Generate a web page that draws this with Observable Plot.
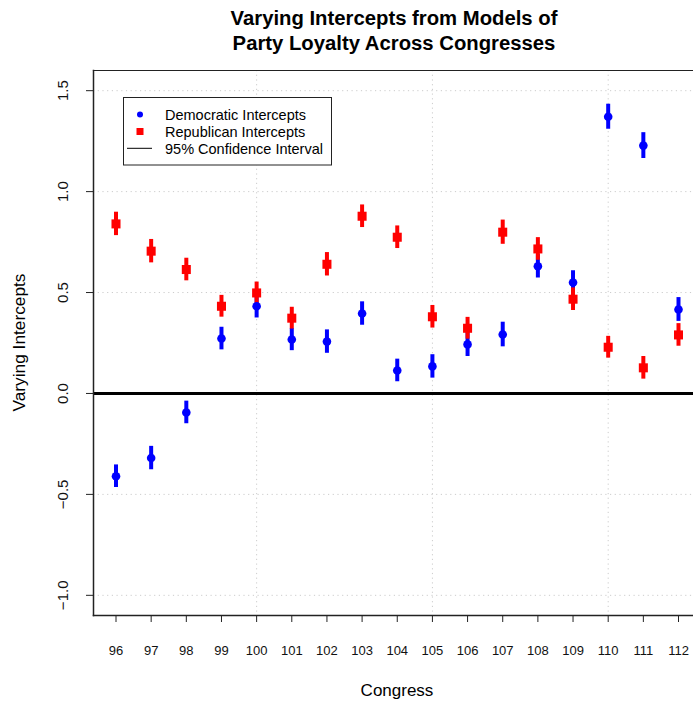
<!DOCTYPE html>
<html>
<head>
<meta charset="utf-8">
<script src="https://cdn.jsdelivr.net/npm/d3@7"></script>
<script src="https://cdn.jsdelivr.net/npm/@observablehq/plot@0.6"></script>
<style>
  html, body { margin: 0; padding: 0; background: #fff; }
  svg { display: block; }
</style>
</head>
<body>
<div id="chart"></div>
<script>
const congresses = [96, 97, 98, 99, 100, 101, 102, 103, 104, 105, 106, 107, 108, 109, 110, 111, 112];

const demEst = [-0.41, -0.32, -0.094, 0.272, 0.432, 0.267, 0.257, 0.396, 0.114, 0.134, 0.243, 0.292, 0.63, 0.55, 1.371, 1.228, 0.416];
const demLo  = [-0.466, -0.378, -0.150, 0.216, 0.374, 0.212, 0.199, 0.338, 0.058, 0.076, 0.183, 0.231, 0.572, 0.492, 1.309, 1.164, 0.357];
const demHi  = [-0.354, -0.262, -0.038, 0.328, 0.490, 0.322, 0.315, 0.454, 0.170, 0.192, 0.303, 0.353, 0.688, 0.608, 1.433, 1.292, 0.475];

const repEst = [0.84, 0.705, 0.614, 0.432, 0.498, 0.373, 0.64, 0.878, 0.774, 0.38, 0.323, 0.799, 0.716, 0.467, 0.229, 0.127, 0.29];
const repLo  = [0.782, 0.647, 0.558, 0.378, 0.444, 0.319, 0.582, 0.822, 0.718, 0.324, 0.269, 0.739, 0.660, 0.411, 0.175, 0.071, 0.234];
const repHi  = [0.898, 0.763, 0.670, 0.486, 0.552, 0.427, 0.698, 0.934, 0.830, 0.436, 0.377, 0.859, 0.772, 0.523, 0.283, 0.183, 0.346];

const yTicks = [-1.0, -0.5, 0.0, 0.5, 1.0, 1.5];
const yTickLabels = ["\u22121.0", "\u22120.5", "0.0", "0.5", "1.0", "1.5"];
const xGrid = [100, 105, 110];

const titleLines = ["Varying Intercepts from Models of", "Party Loyalty Across Congresses"];
const xLabel = "Congress";
const yLabel = "Varying Intercepts";
const legendItems = ["Democratic Intercepts", "Republican Intercepts", "95% Confidence Interval"];

const BLUE = "#0000ff", RED = "#ff0000";

const dem = congresses.map((c, i) => ({c, est: demEst[i], lo: demLo[i], hi: demHi[i]}));
const rep = congresses.map((c, i) => ({c, est: repEst[i], lo: repLo[i], hi: repHi[i]}));
const yLab = yTicks.map((v, i) => ({v, label: yTickLabels[i]}));

const FONT = "'Liberation Sans', Arial, Helvetica, sans-serif";

const chart = Plot.plot({
  width: 693,
  height: 703,
  marginLeft: 93,
  marginRight: 0,
  marginTop: 70,
  marginBottom: 88,
  style: {fontFamily: FONT, background: "#fff", overflow: "visible"},
  x: {domain: [95.36, 112.64], range: [93, 700.5], axis: null},
  y: {domain: [-1.1, 1.6], axis: null},
  marks: [
    Plot.ruleY(yTicks, {stroke: "#cccccc", strokeDasharray: "1.2,3.5", strokeWidth: 1}),
    Plot.ruleX(xGrid, {stroke: "#cccccc", strokeDasharray: "1.2,3.5", strokeWidth: 1}),
    Plot.ruleY([0], {stroke: "black", strokeWidth: 3}),
    Plot.frame({anchor: "left", stroke: "#222", strokeWidth: 1.5}),
    Plot.frame({anchor: "top", stroke: "#222", strokeWidth: 1.2}),
    Plot.frame({anchor: "bottom", stroke: "#222", strokeWidth: 1.5}),
    Plot.axisX({ticks: congresses, tickSize: 7, tickPadding: 23, fontSize: 13, label: null, tickFormat: d => String(d), stroke: "#222", fill: "#111"}),
    Plot.axisY({ticks: yTicks, tickSize: 7, label: null, tickFormat: () => "", stroke: "#222"}),
    Plot.text(yLab, {y: "v", text: "label", frameAnchor: "left", dx: -30, rotate: -90, textAnchor: "middle", fontSize: 15, fill: "#111"}),
    Plot.ruleX(dem, {x: "c", y1: "lo", y2: "hi", stroke: BLUE, strokeWidth: 4}),
    Plot.ruleX(rep, {x: "c", y1: "lo", y2: "hi", stroke: RED, strokeWidth: 4}),
    Plot.dot(dem, {x: "c", y: "est", r: 4.3, fill: BLUE, stroke: "none", symbol: "circle"}),
    Plot.dot(rep, {x: "c", y: "est", r: 5.1, fill: RED, stroke: "none", symbol: "square"})
  ]
});

document.getElementById("chart").appendChild(chart);

const svg = d3.select(chart);
function addText(x, y, txt, size, opts = {}) {
  const t = svg.append("text")
    .attr("x", x).attr("y", y)
    .attr("text-anchor", opts.anchor || "middle")
    .attr("font-family", FONT)
    .attr("font-size", size)
    .attr("font-weight", opts.bold ? "bold" : "normal")
    .attr("fill", "#000")
    .text(txt);
  if (opts.transform) t.attr("transform", opts.transform);
  return t;
}
// Title
addText(394, 25, titleLines[0], 20.3, {bold: true});
addText(394, 50, titleLines[1], 20.3, {bold: true});
// Axis titles
addText(397, 696, xLabel, 17);
addText(0, 0, yLabel, 17.3, {transform: "translate(25,342.5) rotate(-90)"});

// Legend
const lg = svg.append("g");
lg.append("rect").attr("x", 123.5).attr("y", 97.5).attr("width", 208).attr("height", 67.5)
  .attr("fill", "white").attr("stroke", "#222").attr("stroke-width", 1);
const rowsY = [114.5, 131.5, 148.3];
lg.append("circle").attr("cx", 140).attr("cy", rowsY[0]).attr("r", 3).attr("fill", BLUE);
lg.append("rect").attr("x", 136.5).attr("y", rowsY[1] - 3.5).attr("width", 7).attr("height", 7).attr("fill", RED);
lg.append("line").attr("x1", 127).attr("x2", 152).attr("y1", rowsY[2]).attr("y2", rowsY[2]).attr("stroke", "black").attr("stroke-width", 1);
legendItems.forEach((t, i) => {
  lg.append("text").attr("x", 165).attr("y", rowsY[i] + 5.2)
    .attr("text-anchor", "start")
    .attr("font-family", FONT)
    .attr("font-size", 14.5).attr("fill", "#000").text(t);
});
</script>
</body>
</html>
